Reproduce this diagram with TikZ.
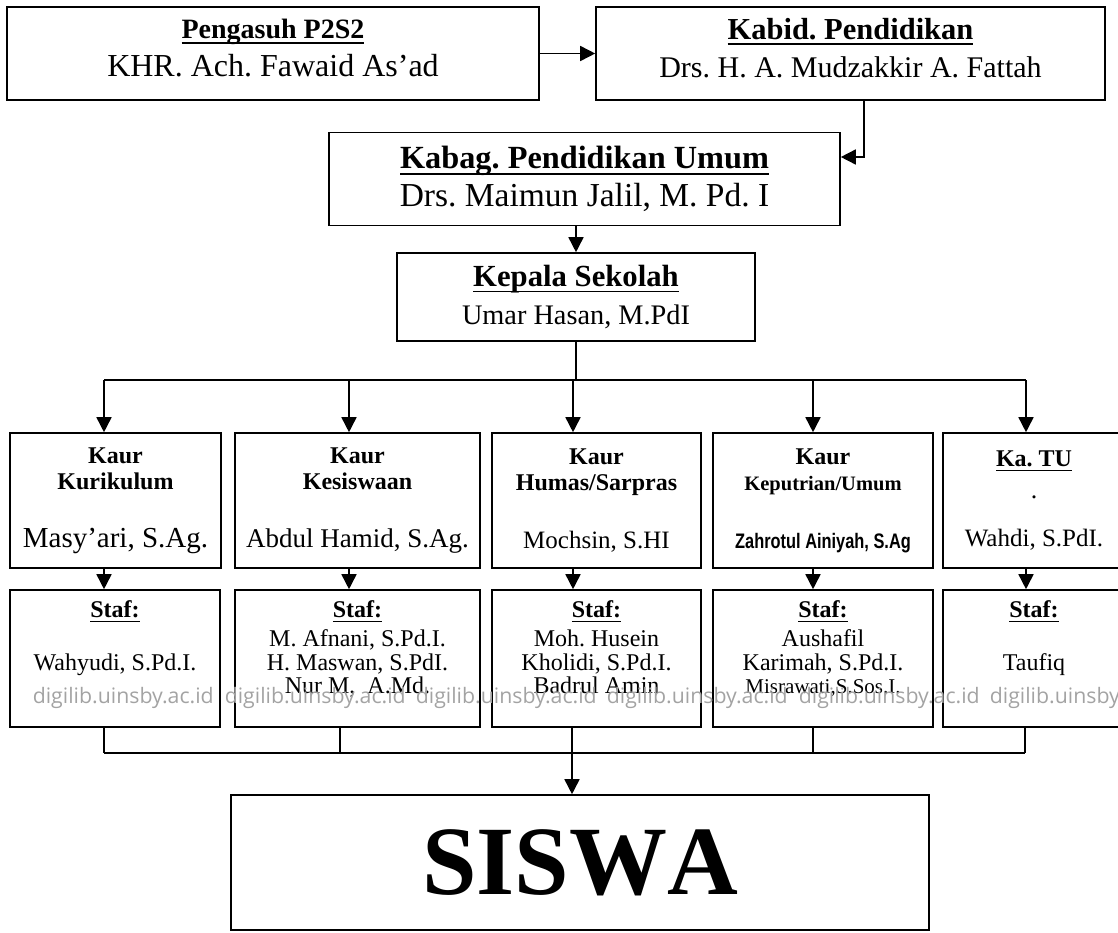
\documentclass[tikz,border=0pt]{standalone}
\usepackage{fontspec}
\setmainfont{Liberation Serif}
\newfontfamily\narrowsans[FakeStretch=0.78]{Liberation Sans}
\newfontfamily\wmfont{Open Sans}
\usetikzlibrary{arrows.meta}
\frenchspacing

\newsavebox{\ttlbox}
\newcommand{\ttl}[1]{{\bfseries\sbox{\ttlbox}{#1}\rlap{\vrule height -.14em depth \dimexpr.14em+1.4pt\relax width \wd\ttlbox}\usebox{\ttlbox}}}
\newcommand{\kname}[2][26]{{\mdseries\fontsize{#1}{26}\selectfont #2}}
\newcommand{\sz}[1]{\fontsize{#1}{38}\selectfont}

\tikzset{
  box/.style={draw, line width=1.6pt, align=center, inner sep=0pt},
  headbox/.style={box, minimum height=93pt, font=\fontsize{30}{38}\selectfont},
  kaurbox/.style={box, minimum height=135pt, font=\fontsize{24}{26}\selectfont\bfseries},
  stafbox/.style={box, minimum height=137pt, text depth=23pt, font=\fontsize{24}{23.5}\selectfont},
  wmark/.style={text=black!36, font=\wmfont\fontsize{21.3}{22}\selectfont, inner sep=0pt, anchor=base west},
}

\begin{document}
\begin{tikzpicture}[x=1pt,y=-1pt,>={Triangle[length=15pt,width=15pt]},line width=1.6pt]
    \useasboundingbox (0,0) rectangle (1118,932);
    % pimpinan
    \node[headbox, minimum width=532pt, text depth=12pt] (pengasuh) at (273,53.5) {{\sz{28}\ttl{Pengasuh P2S2}}\\ {\sz{32}KHR. Ach. Fawaid As'ad}};
    \node[headbox, minimum width=509pt, text depth=12pt] (kabid) at (850.5,53.5) {{\sz{30.5}\ttl{Kabid. Pendidikan}}\\ Drs. H. A. Mudzakkir A. Fattah};
    \node[headbox, minimum width=511pt] (kabag) at (584.5,179) {{\sz{32.3}\ttl{Kabag. Pendidikan Umum}}\\ {\sz{33.5}Drs. Maimun Jalil, M. Pd. I}};
    \node[headbox, minimum width=358pt, minimum height=88pt] (kepala) at (576,297) {{\sz{30.7}\ttl{Kepala Sekolah}}\\ {\sz{28.3}Umar Hasan, M.PdI}};
    \draw[->] (pengasuh.east) -- (kabid.west);
    \coordinate (kbturn) at (864,157);
    \draw[->] (kabid.south -| kbturn) -- (kbturn) -- (kabag.east |- kbturn);
    \draw[->] (kabag.south -| kepala.north) -- (kepala.north);
    % kaur
    \node[kaurbox, minimum width=211pt] (kurikulum) at (115.5,500.5) {Kaur\\ Kurikulum\\[32pt] \kname[29]{Masy'ari, S.Ag.}};
    \node[kaurbox, minimum width=245pt] (kesiswaan) at (357.5,500.5) {Kaur\\ Kesiswaan\\[32pt] \kname[27]{Abdul Hamid, S.Ag.}};
    \node[kaurbox, minimum width=209pt] (humas) at (596.5,500.5) {Kaur\\ Humas/Sarpras\\[32pt] \kname[25]{Mochsin, S.HI}};
    \node[kaurbox, minimum width=220pt] (keputrian) at (823,500.5) {Kaur\\ {\fontsize{20.5}{26}\selectfont Keputrian/Umum}\\[32pt] {\narrowsans\fontsize{21}{26}\selectfont Zahrotul Ainiyah, S.Ag}};
    \node[kaurbox, minimum width=182pt] (katu) at (1034,500.5) {\ttl{Ka. TU}\\[6pt] \kname{.}\\[22pt] \kname[25]{Wahdi, S.PdI.}};
    % staf
    \node[stafbox, minimum width=210pt] (stafkur) at (115,658.5) {\ttl{Staf:}\\[6pt] \mbox{}\\ Wahyudi, S.Pd.I.\\ \mbox{}};
    \node[stafbox, minimum width=245pt] (stafkes) at (357.5,658.5) {\ttl{Staf:}\\[6pt] M. Afnani, S.Pd.I.\\ H. Maswan, S.PdI.\\ Nur M,~ A.Md.};
    \node[stafbox, minimum width=209pt] (stafhum) at (596.5,658.5) {\ttl{Staf:}\\[6pt] Moh. Husein\\ Kholidi, S.Pd.I.\\ Badrul Amin};
    \node[stafbox, minimum width=220pt] (stafput) at (823,658.5) {\ttl{Staf:}\\[6pt] Aushafil\\ Karimah, S.Pd.I.\\ {\fontsize{21}{23.5}\selectfont Misrawati,S.Sos.I.}};
    \node[stafbox, minimum width=182pt] (staftu) at (1034,658.5) {\ttl{Staf:}\\[6pt] \mbox{}\\ Taufiq\\ \mbox{}};
    \node[box, minimum width=698pt, minimum height=135pt, font=\fontsize{98}{100}\selectfont\bfseries\addfontfeature{Kerning=Off}] (siswa) at (580,862.5) {SISWA};
    % jalur
    \coordinate (c1) at (104,380);  \coordinate (c2) at (349,380);  \coordinate (c3) at (573,380);
    \coordinate (c4) at (813,380);  \coordinate (c5) at (1026,380);
    \coordinate (d1) at (104,753);  \coordinate (d2) at (340,753);  \coordinate (d3) at (572,753);
    \coordinate (d4) at (813,753);  \coordinate (d5) at (1025,753);
    \draw (kepala.south) -- (kepala.south |- c1);
    \draw (c1) -- (c5);
    \foreach \c/\k/\s in {c1/kurikulum/stafkur,c2/kesiswaan/stafkes,c3/humas/stafhum,c4/keputrian/stafput,c5/katu/staftu}{
      \draw[->] (\c) -- (\c |- \k.north);
      \draw[->] (\c |- \k.south) -- (\c |- \s.north);
    }
    \foreach \d/\s in {d1/stafkur,d2/stafkes,d3/stafhum,d4/stafput,d5/staftu}{\draw (\s.south -| \d) -- (\d);}
    \draw (d1) -- (d5);
    \draw[->] (d3) -- (d3 |- siswa.north);
    % watermark
    \foreach \wx [count=\i] in {32,224,415,606,798,989}{\node[wmark] (wm\i) at (\wx,703) {digilib.uinsby.ac.id};}
\end{tikzpicture}
\end{document}
